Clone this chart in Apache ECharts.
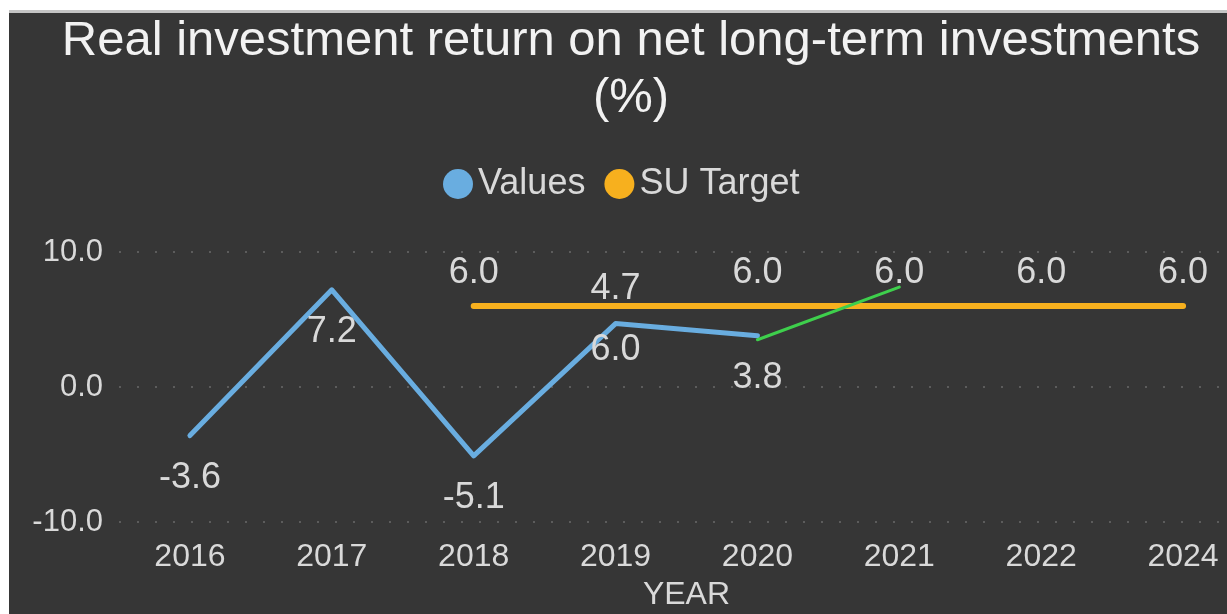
<!DOCTYPE html>
<html>
<head>
<meta charset="utf-8">
<script src="https://cdn.jsdelivr.net/npm/echarts@6/dist/echarts.min.js"></script>
<style>
    html, body { margin: 0; padding: 0; background: #ffffff; }
    #frame { position: absolute; left: 9px; top: 10px; width: 1218px; height: 604px; border-top: 3px solid #c4c4c4; background: #363636; }
    #chart { width: 1218px; height: 601px; }
</style>
</head>
<body>
<div id="frame"><div id="chart"></div></div>
<script>
// 数据
const years = ['2016', '2017', '2018', '2019', '2020', '2021', '2022', '2024']
const values = [-3.6, 7.2, -5.1, 4.7, 3.8, null, null, null]
const suTarget = [null, null, 6.0, 6.0, 6.0, 6.0, 6.0, 6.0]
const trendLine = [null, null, null, null, 3.5, 7.4, null, null]
// 图上显示的标签文字（原图 2019 的两个标签是互换的）
const valueLabels = ['-3.6', '7.2', '-5.1', '6.0', '3.8', '', '', '']
const targetLabels = ['', '', '6.0', '4.7', '6.0', '6.0', '6.0', '6.0']
const yTicks = { min: -10, max: 10, interval: 10 }

const textColor = '#d9d9d9'
const font = 'Liberation Sans, Arial, sans-serif'

const chart = echarts.init(document.getElementById('chart'))

const valueData = values.map((v, i) => ({
    value: v,
    label: i === 3 ? { distance: 8 } : {}
}))
const targetData = suTarget.map((v, i) => ({
    value: v,
    label: i === 3 ? { distance: -2 } : {}
}))

chart.setOption({
    backgroundColor: '#363636',
    textStyle: { fontFamily: font },
    title: {
        text: 'Real investment return on net long-term investments\n(%)',
        left: 622,
        textAlign: 'center',
        top: 0,
        padding: 0,
        textStyle: {
            color: '#f2f2f2',
            fontSize: 49,
            fontWeight: 'normal',
            lineHeight: 57,
            fontFamily: font
        }
    },
    legend: {
        top: 153,
        left: 434,
        padding: 0,
        icon: 'circle',
        itemWidth: 30,
        itemHeight: 30,
        itemGap: 19,
        textStyle: { color: textColor, fontSize: 36, fontFamily: font },
        data: ['Values', 'SU Target']
    },
    grid: {
        left: 110,
        width: 1135,
        top: 239,
        bottom: 92,
        outerBoundsMode: 'none'
    },
    xAxis: {
        type: 'category',
        data: years,
        boundaryGap: true,
        name: 'YEAR',
        nameLocation: 'middle',
        nameGap: 57,
        nameTextStyle: { color: textColor, fontSize: 32, fontFamily: font },
        axisLine: { show: false },
        axisTick: { show: false },
        axisLabel: { color: textColor, fontSize: 32, margin: 19, fontFamily: font }
    },
    yAxis: {
        type: 'value',
        min: yTicks.min,
        max: yTicks.max,
        interval: yTicks.interval,
        axisLine: { show: false },
        axisTick: { show: false },
        axisLabel: {
            color: textColor,
            fontSize: 31,
            margin: 16,
            fontFamily: font,
            formatter: (v) => v.toFixed(1)
        },
        splitLine: {
            lineStyle: { color: '#5c5c5c', width: 2, type: [2, 16] }
        }
    },
    series: [
        {
            name: 'Values',
            type: 'line',
            data: valueData,
            color: '#69ade0',
            symbol: 'circle',
            symbolSize: 1,
            lineStyle: { width: 5, cap: 'round', join: 'round' },
            label: {
                show: true,
                position: 'bottom',
                distance: 24,
                color: textColor,
                fontSize: 36,
                fontFamily: font,
                formatter: (p) => valueLabels[p.dataIndex]
            },
            z: 3
        },
        {
            name: 'SU Target',
            type: 'line',
            data: targetData,
            color: '#f7b01e',
            symbol: 'circle',
            symbolSize: 1,
            lineStyle: { width: 6, cap: 'round' },
            label: {
                show: true,
                position: 'top',
                distance: 14,
                color: textColor,
                fontSize: 36,
                fontFamily: font,
                formatter: (p) => targetLabels[p.dataIndex]
            },
            z: 2
        },
        {
            name: 'Trend',
            type: 'line',
            data: trendLine,
            color: '#3ecf4c',
            symbol: 'none',
            lineStyle: { width: 3, cap: 'round' },
            z: 4
        }
    ]
})
</script>
</body>
</html>
